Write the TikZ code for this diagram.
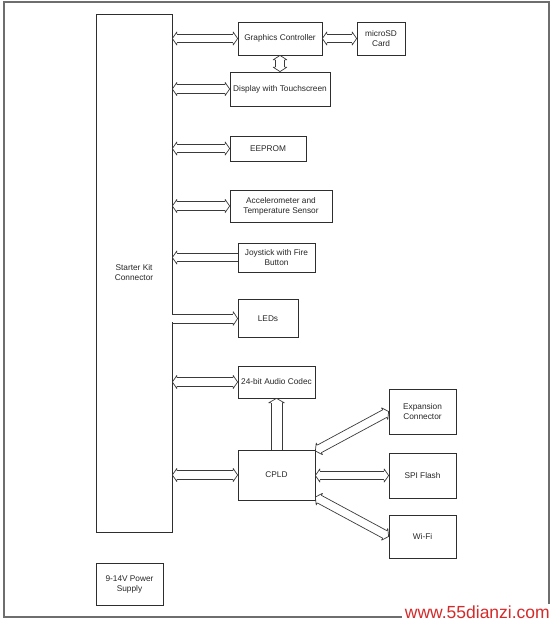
\documentclass[tikz,border=0pt]{standalone}
\usepackage{fontspec}
\setmainfont{Liberation Sans}
\usetikzlibrary{calc}
\definecolor{boxline}{HTML}{2E2E2E}
\definecolor{busc}{HTML}{3A3A3A}
\definecolor{framec}{HTML}{6E6E6E}
\definecolor{wmred}{HTML}{D42A2A}
% #1 head at start (1/0), #2 head at end (1/0), #3 half width, #4 from, #5 to
\newcommand\busar[5]{%
  \coordinate (ba) at (#4);
  \coordinate (bb) at (#5);
  \pgfmathsetlengthmacro\busout{#3+2.3pt}%
  \ifnum#1=1\relax \coordinate (pa) at ($(ba)!4.5pt!(bb)$);\else \coordinate (pa) at (ba);\fi
  \ifnum#2=1\relax \coordinate (pb) at ($(bb)!4.5pt!(ba)$);\else \coordinate (pb) at (bb);\fi
  \draw[busline] ($(pa)!#3!90:(bb)$) -- ($(pb)!#3!-90:(ba)$);
  \draw[busline] ($(pa)!#3!-90:(bb)$) -- ($(pb)!#3!90:(ba)$);
  \ifnum#1=1\relax
    \draw[busline] ($(pa)!#3!90:(bb)$) -- ($(pa)!\busout!90:(bb)$) -- (ba) -- ($(pa)!\busout!-90:(bb)$) -- ($(pa)!#3!-90:(bb)$);
  \fi
  \ifnum#2=1\relax
    \draw[busline] ($(pb)!#3!90:(ba)$) -- ($(pb)!\busout!90:(ba)$) -- (bb) -- ($(pb)!\busout!-90:(ba)$) -- ($(pb)!#3!-90:(ba)$);
  \fi
}
\begin{document}
\begin{tikzpicture}[x=1pt,y=-1pt,
  box/.style={draw=boxline, line width=0.75pt, inner sep=0pt, text=black!85, font=\fontsize{8.3}{10}\selectfont, align=center},
  busline/.style={draw=busc, line width=0.7pt, line join=round}]
\useasboundingbox (0,0) rectangle (553,621);
\draw[framec, line width=1.5pt] (4,2) rectangle (549,617);
% nodes
\node[box, minimum width=76pt, minimum height=518pt] (conn) at (134,273) {Starter Kit\\Connector};
\node[box, minimum width=84pt, minimum height=33pt] (gc) at (280,38.5) {Graphics Controller};
\node[box, minimum width=48pt, minimum height=33pt] (sd) at (381,38.5) {microSD\\Card};
\node[box, minimum width=100pt, minimum height=34pt] (disp) at (280,89) {Display with Touchscreen};
\node[box, minimum width=76pt, minimum height=25pt] (ee) at (268,148.5) {EEPROM};
\node[box, minimum width=102pt, minimum height=32pt] (acc) at (281,206) {Accelerometer and\\Temperature Sensor};
\node[box, minimum width=77pt, minimum height=29pt] (joy) at (276.5,257.5) {Joystick with Fire\\Button};
\node[box, minimum width=60pt, minimum height=38pt] (leds) at (268,318.5) {LEDs};
\node[box, minimum width=77pt, minimum height=32pt] (codec) at (276.5,382) {24-bit Audio Codec};
\node[box, minimum width=77pt, minimum height=50pt] (cpld) at (276.5,475) {CPLD};
\node[box, minimum width=67pt, minimum height=45pt] (exp) at (422.5,411.5) {Expansion\\Connector};
\node[box, minimum width=67pt, minimum height=45pt] (spi) at (422.5,475.5) {SPI Flash};
\node[box, minimum width=67pt, minimum height=43pt] (wifi) at (422.5,536.5) {Wi-Fi};
\node[box, minimum width=67pt, minimum height=42pt] (psu) at (129.5,584) {9-14V Power\\Supply};
% connectors
\busar{1}{1}{4.3pt}{conn.east |- gc.west}{gc.west}
\busar{1}{1}{4.3pt}{gc.east}{sd.west}
\busar{1}{1}{4.6pt}{gc.south}{disp.north}
\busar{1}{1}{4.3pt}{conn.east |- disp.west}{disp.west}
\busar{1}{1}{4.3pt}{conn.east |- ee.west}{ee.west}
\busar{1}{1}{4.3pt}{conn.east |- acc.west}{acc.west}
\busar{1}{0}{4.3pt}{conn.east |- joy.west}{joy.west}
\draw[white, line width=2pt] ([yshift=3.8pt]conn.east |- leds.west) -- ([yshift=-3.8pt]conn.east |- leds.west);
\busar{0}{1}{4.6pt}{conn.east |- leds.west}{leds.west}
\busar{1}{1}{4.3pt}{conn.east |- codec.west}{codec.west}
\busar{1}{1}{4.3pt}{conn.east |- cpld.west}{cpld.west}
\busar{1}{0}{5.6pt}{codec.south}{cpld.north}
\busar{1}{1}{4.3pt}{cpld.east |- spi.west}{spi.west}
\busar{1}{1}{4.3pt}{[yshift=24pt]cpld.east}{exp.west}
\busar{1}{1}{4.3pt}{[yshift=-22pt]cpld.east}{wifi.west}
% watermark
\node[fill=white, inner xsep=3pt, inner ysep=2pt, text=wmred, font=\fontsize{17.5}{18}\selectfont, anchor=south east] (wm) at (553,621) {www.55dianzi.com};
\end{tikzpicture}
\end{document}
